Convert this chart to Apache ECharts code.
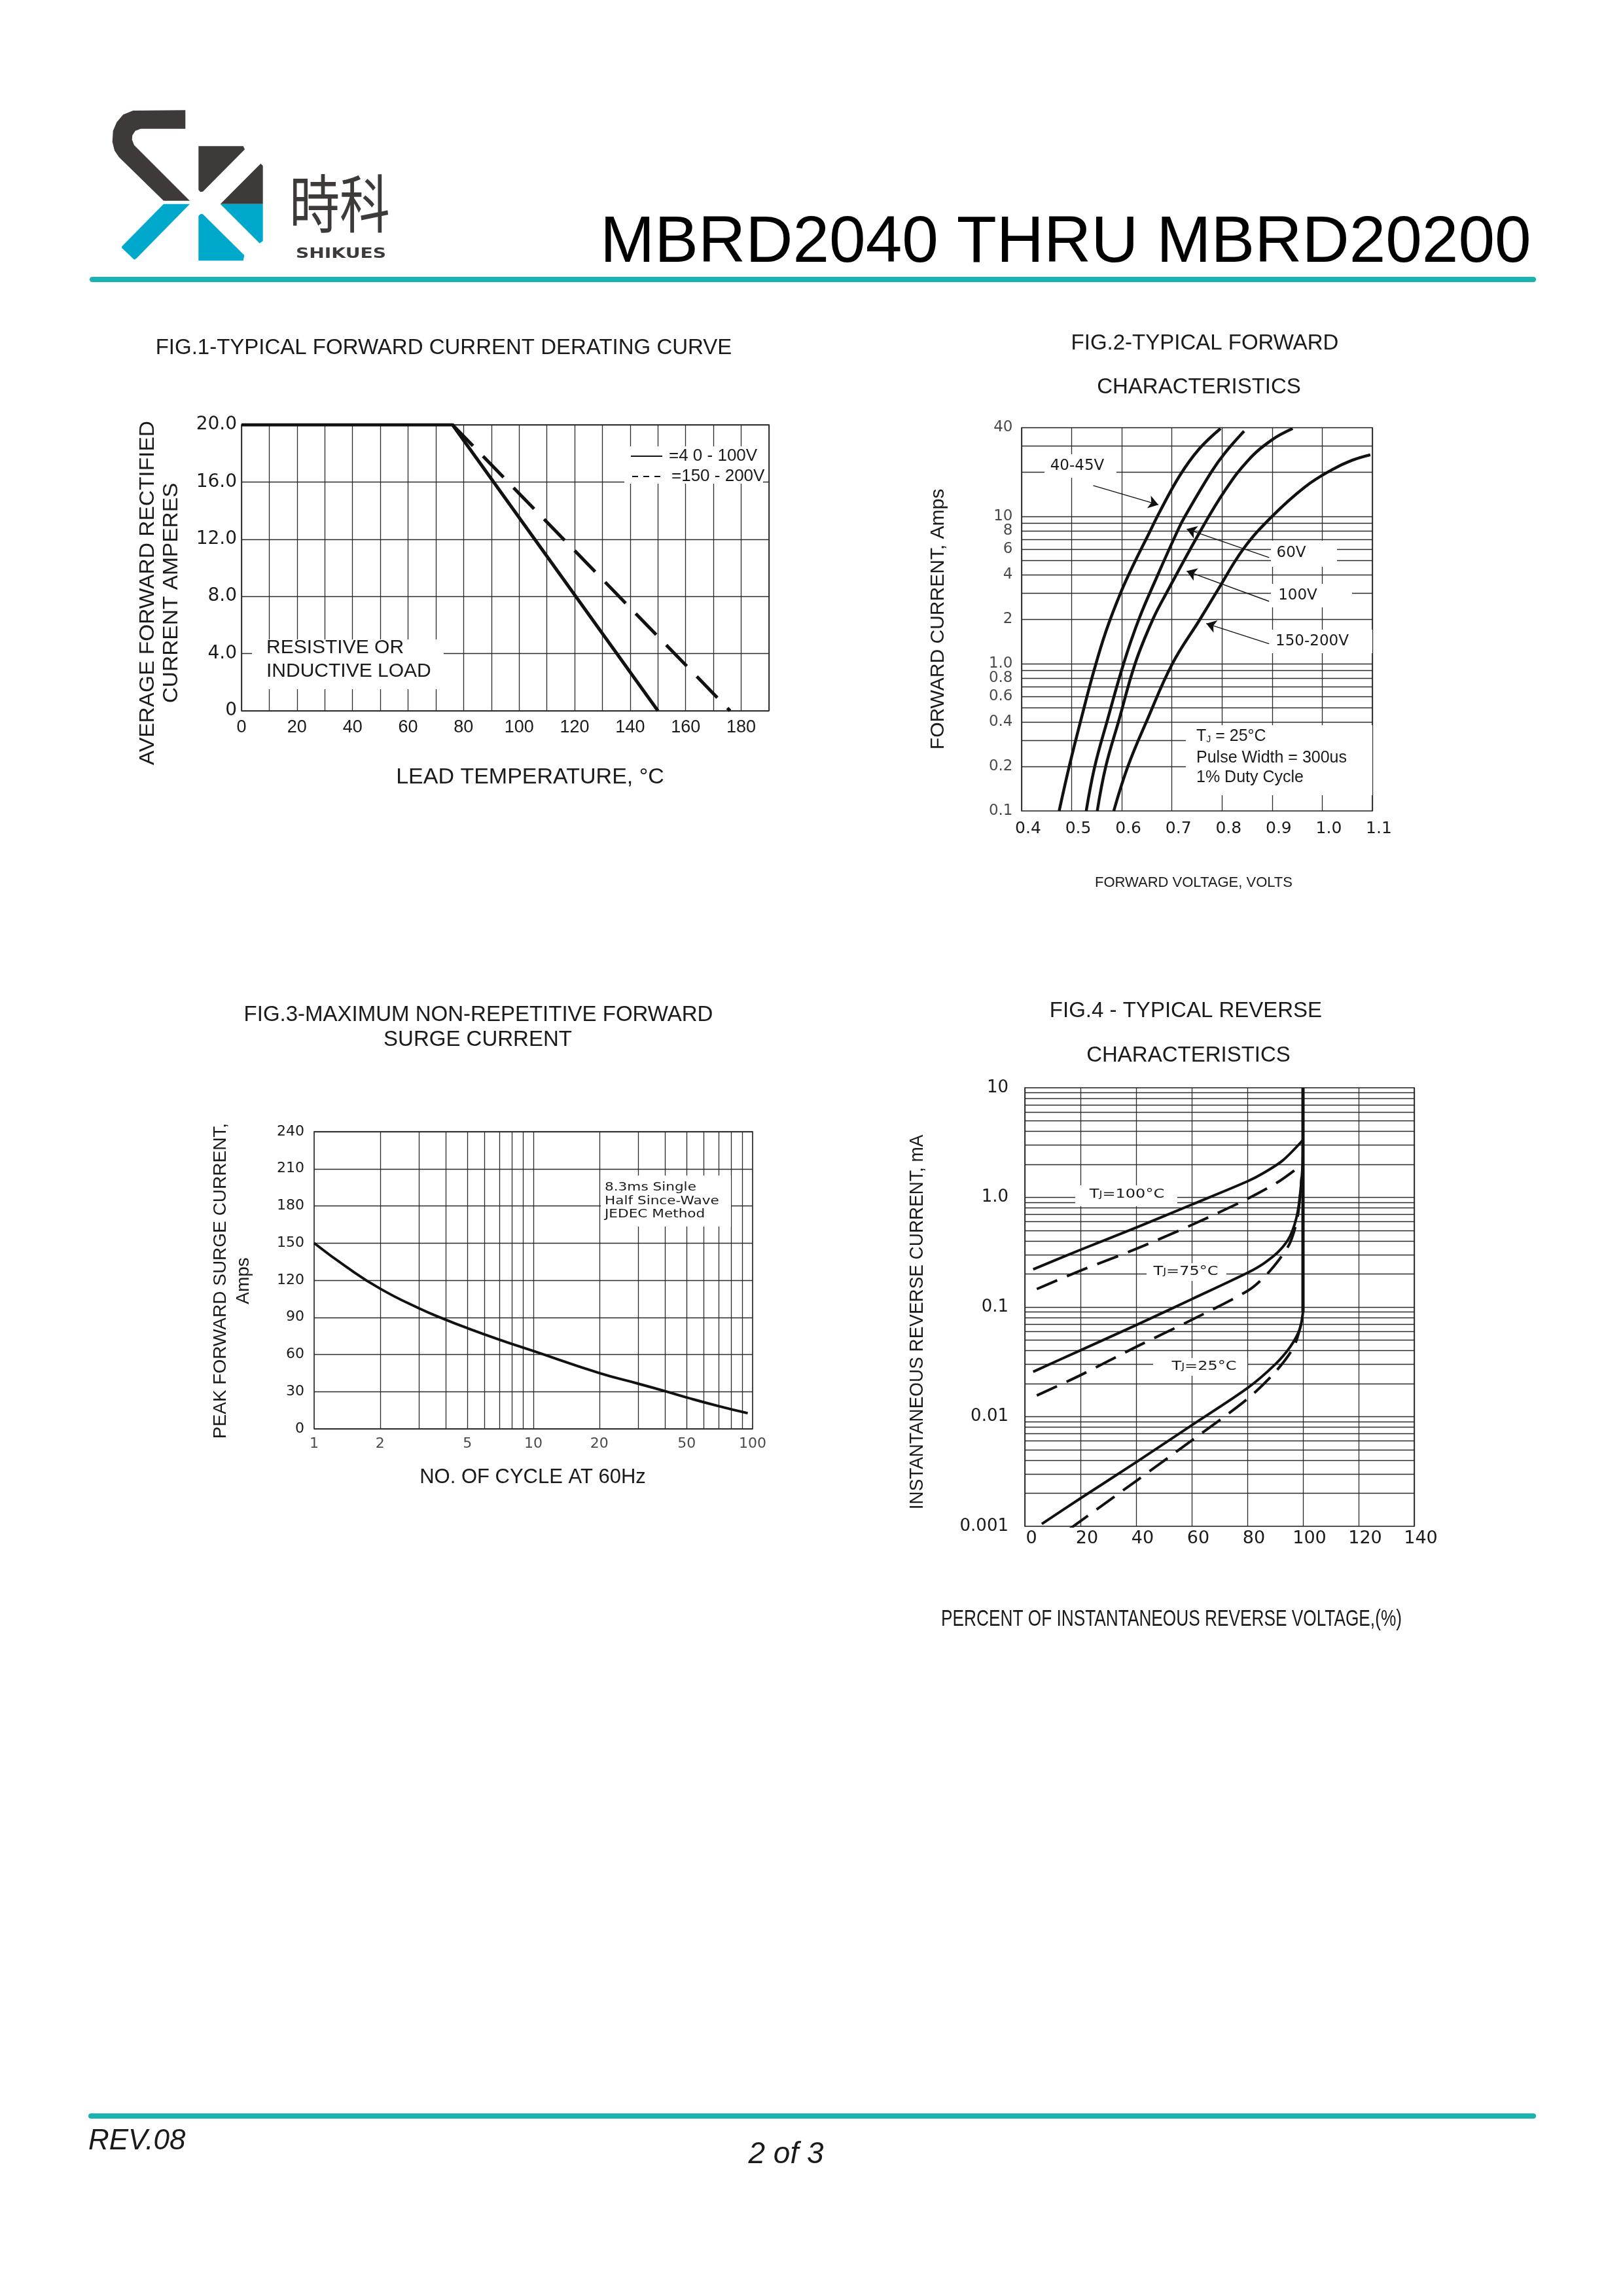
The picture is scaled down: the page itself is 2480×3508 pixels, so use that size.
<!DOCTYPE html>
<html>
<head>
<meta charset="utf-8">
<script src="https://cdn.jsdelivr.net/npm/echarts@6/dist/echarts.min.js"></script>
<style>
html,body{margin:0;padding:0;background:#fff;}
#c{width:2480px;height:3508px;}
</style>
</head>
<body>
<div id="c"></div>
<script>
// ---------------- DATA ----------------
// FIG.1 derating curve
const fig1XLabels = ['0','20','40','60','80','100','120','140','160','180'];
const fig1YLabels = ['0','4.0','8.0','12.0','16.0','20.0'];
const fig1TempSolid = [0, 76, 150];
const fig1AmpsSolid = [20, 20, 0];
const fig1TempDashed = [76, 176];
const fig1AmpsDashed = [20, 0];

// FIG.2 forward characteristics
const fig2XLabels = ['0.4','0.5','0.6','0.7','0.8','0.9','1.0','1.1'];
const fig2YTicks  = [0.1, 0.2, 0.4, 0.6, 0.8, 1, 2, 4, 6, 8, 10, 40];
const fig2YLabels = ['0.1','0.2','0.4','0.6','0.8','1.0','2','4','6','8','10','40'];
const fig2GridY   = [0.2,0.3,0.4,0.5,0.6,0.7,0.8,0.9,1,2,3,4,5,6,7,8,9,10,20,30];
const volts4045 = [0.475, 0.495, 0.518, 0.545, 0.569, 0.599, 0.625, 0.651, 0.677, 0.716, 0.754, 0.797];
const amps4045  = [0.1, 0.2, 0.41, 0.91, 1.68, 3.1, 4.83, 7.28, 10.96, 19.0, 28.6, 39.5];
const volts60   = [0.529, 0.546, 0.571, 0.604, 0.634, 0.669, 0.712, 0.726, 0.779, 0.806, 0.844];
const amps60    = [0.1, 0.2, 0.41, 1.01, 2.0, 3.81, 8.07, 10.0, 20.1, 27.0, 37.9];
const volts100  = [0.551, 0.568, 0.594, 0.627, 0.662, 0.691, 0.758, 0.806, 0.852, 0.899, 0.941];
const amps100   = [0.1, 0.2, 0.41, 1.01, 2.0, 3.1, 8.07, 15.0, 24.0, 33.0, 39.5];
const volts150  = [0.584, 0.612, 0.650, 0.701, 0.756, 0.790, 0.843, 0.899, 0.966, 1.019, 1.059, 1.096];
const amps150   = [0.1, 0.2, 0.41, 1.0, 2.0, 3.1, 6.04, 9.94, 15.9, 20.7, 24.0, 26.2];
const fig2ArrowStart = [[0.543, 16.2], [0.894, 5.25], [0.894, 2.65], [0.894, 1.365]];
const fig2ArrowEnd   = [[0.673, 12.0], [0.7295, 8.2], [0.7295, 4.25], [0.7686, 1.873]];

// FIG.3 surge current
const fig3XTicks  = [1, 2, 5, 10, 20, 50, 100];
const fig3XLabels = ['1','2','5','10','20','50','100'];
const fig3YLabels = ['0','30','60','90','120','150','180','210','240'];
const fig3GridX   = [2,3,4,5,6,7,8,9,10,20,30,40,50,60,70,80,90];
const fig3Cycles  = [1, 1.41, 2, 3, 4, 5, 7, 10, 20, 30, 40, 50, 70, 95];
const fig3Amps    = [150, 130.5, 113.2, 97.4, 88, 81.3, 72, 62.8, 45, 36.5, 30.3, 25.3, 18.3, 12.6];

// FIG.4 reverse characteristics
const fig4XLabels = ['0','20','40','60','80','100','120','140'];
const fig4YLabels = ['0.001','0.01','0.1','1.0','10'];
const fig4GridY = [0.002,0.003,0.004,0.005,0.006,0.007,0.008,0.009,
                   0.01,0.02,0.03,0.04,0.05,0.06,0.07,0.08,0.09,
                   0.1,0.2,0.3,0.4,0.5,0.6,0.7,0.8,0.9,
                   1,2,3,4,5,6,7,8,9];
const pct100Solid = [3, 20, 40, 60, 80, 86, 92.7, 100];
const ma100Solid  = [0.221, 0.333, 0.53, 0.86, 1.40, 1.68, 2.17, 3.34];
const pct100Dash  = [4.3, 20, 40, 60, 80, 91.4, 100];
const ma100Dash   = [0.146, 0.215, 0.339, 0.561, 0.97, 1.40, 2.02];
const pct75Solid  = [3, 20, 40, 60, 80, 86, 91.4, 95.4, 98.1, 99.7, 100];
const ma75Solid   = [0.0257, 0.0403, 0.0684, 0.118, 0.205, 0.251, 0.324, 0.446, 0.738, 1.68, 2.9];
const pct75Dash   = [4.3, 20, 40, 60, 80, 86, 91.4, 95.4, 98.1, 99.5];
const ma75Dash    = [0.0156, 0.0239, 0.0433, 0.0764, 0.14, 0.187, 0.27, 0.389, 0.673, 1.53];
const pct25Solid  = [6.1, 20, 40, 60, 80, 90, 95.4, 98.8, 100];
const ma25Solid   = [0.00105, 0.0018, 0.00384, 0.00835, 0.0182, 0.030, 0.0433, 0.0624, 0.090];
const pct25Dash   = [16.2, 26.6, 40, 60, 80, 90, 96.7, 99.2];
const ma25Dash    = [0.00095, 0.00147, 0.00259, 0.00607, 0.0145, 0.0255, 0.0433, 0.0684];
const pctVertical = [100, 100];
const maVertical  = [0.09, 10];

// ---------------- STYLE ----------------
const INK = '#1a1a1a';
const GRIDC = '#2a2a2a';
const SANS = '"Liberation Sans", Arial, sans-serif';
const DJ = '"DejaVu Sans", sans-serif';
const CJK = '"Noto Sans CJK SC", "Noto Sans CJK TC", sans-serif';
const TEAL = '#1bb3b1';
const DARK = '#3e3a39';
const CYAN = '#00a9cc';

const chart = echarts.init(document.getElementById('c'), null, {renderer: 'canvas', width: 2480, height: 3508});

const zip = (xs, ys) => xs.map((x, i) => [x, ys[i]]);
const gridLineStyle = {color: GRIDC, width: 1.3, type: 'solid', opacity: 1};
function gridMarks(vals, key) {
  return {silent: true, symbol: ['none', 'none'], label: {show: false}, precision: 8,
          lineStyle: gridLineStyle, emphasis: {disabled: true}, animation: false,
          data: vals.map(v => ({[key]: v}))};
}
function curve(ai, xs, ys, width, dash, smooth) {
  return {type: 'line', xAxisIndex: ai, yAxisIndex: ai, data: zip(xs, ys),
          symbol: 'none', showSymbol: false, smooth: smooth, silent: true, z: 5,
          lineStyle: {color: '#111', width: width, type: dash || 'solid', cap: 'butt', join: 'round'}};
}
const hide = {show: false};
const splitOn = {show: true, lineStyle: gridLineStyle};

// ---------------- GRAPHICS ----------------
function txt(x, y, text, size, o) {
  o = o || {};
  return {type: 'text', x: x, y: y, z: 30, rotation: o.rot || 0, scaleX: o.sx || 1, scaleY: o.sy || 1,
    style: {x: 0, y: 0, text: text, fontSize: size, fontFamily: o.family || SANS,
      fontWeight: o.weight || 'normal', fontStyle: o.style || 'normal',
      fill: o.fill || INK, align: o.align || 'center', verticalAlign: 'middle', rich: o.rich}};
}
function box(x, y, w, h) {
  return {type: 'rect', z: 25, shape: {x: x, y: y, width: w, height: h}, style: {fill: '#fff'}};
}
function poly(points, fill) {
  return {type: 'polygon', z: 30, shape: {points: points}, style: {fill: fill}};
}
function line(x1, y1, x2, y2, w, dash) {
  return {type: 'line', z: 30, shape: {x1: x1, y1: y1, x2: x2, y2: y2},
          style: {stroke: '#111', lineWidth: w, lineDash: dash || null}};
}
const tjRich = (size) => ({
  a: {fontSize: size, fontFamily: DJ, fill: INK},
  j: {fontSize: Math.round(size * 0.72), fontFamily: DJ, fill: INK}
});

const graphics = [
  // logo
  poly([[283.3,168.3],[283.3,196.7],[215,196.7],[206.7,200],[202.3,206.7],[201.7,213.3],[205,221.7],
        [290,306.7],[250,306.7],[181.7,240],[175,230],[171.7,216.7],[172.7,200],[178.3,186.7],[188.3,175],[203.3,169]], DARK),
  poly([[250,311.7],[290,311.7],[208.3,395],[205,396.7],[186.7,379.3],[186,376.7]], CYAN),
  poly([[303.3,223.3],[371.7,223.3],[374,228.3],[310,292.7],[306,293.3],[303.3,290]], DARK),
  poly([[398.3,250],[401.7,253.3],[401.7,311.7],[336.7,311.7]], DARK),
  poly([[336.7,311.7],[401.7,311.7],[401.7,368.3],[396.7,371.7]], CYAN),
  poly([[303.3,330],[306.7,326.7],[310,327.3],[373.3,390],[371.7,398.3],[303.3,398.3]], CYAN),
  txt(519, 311, '時科', 96, {family: CJK, fill: DARK, sx: 0.8}),
  txt(521, 388, 'SHIKUES', 22, {family: DJ, weight: 'bold', fill: DARK, sx: 1.28}),
  // header title + rule
  txt(917, 372, 'MBRD2040 THRU MBRD20200', 100, {align: 'left', fill: '#000'}),
  {type: 'rect', z: 30, shape: {x: 137, y: 423, width: 2210, height: 8, r: 4}, style: {fill: TEAL}},
  // footer
  {type: 'rect', z: 30, shape: {x: 135, y: 3229, width: 2212, height: 8, r: 4}, style: {fill: TEAL}},
  txt(135, 3272, 'REV.08', 44, {align: 'left', style: 'italic'}),
  txt(1201, 3292, '2 of 3', 46, {style: 'italic'}),

  // FIG.1 texts
  txt(678, 532, 'FIG.1-TYPICAL FORWARD CURRENT DERATING CURVE', 33),
  txt(226, 906, 'AVERAGE FORWARD RECTIFIED', 31, {rot: Math.PI / 2, sx: 1.08}),
  txt(262, 906, 'CURRENT AMPERES', 31, {rot: Math.PI / 2, sx: 1.08}),
  txt(810, 1188, 'LEAD TEMPERATURE, °C', 34),
  box(385, 977, 293, 76),
  txt(407, 990, 'RESISTIVE OR', 30, {align: 'left'}),
  txt(407, 1026, 'INDUCTIVE LOAD', 30, {align: 'left'}),
  box(954, 682, 212, 57),
  line(964, 697, 1012, 697, 2),
  txt(1022, 697, '=4 0 - 100V', 26, {align: 'left'}),
  line(966, 728, 1016, 728, 2, [9, 8]),
  txt(1026, 728, '=150 - 200V', 26, {align: 'left'}),

  // FIG.2 texts
  txt(1841, 525, 'FIG.2-TYPICAL FORWARD', 33),
  txt(1832, 592, 'CHARACTERISTICS', 33),
  txt(1434, 946, 'FORWARD CURRENT, Amps', 30, {rot: Math.PI / 2}),
  txt(1824, 1349, 'FORWARD VOLTAGE, VOLTS', 22),
  box(1596, 694, 110, 36),
  txt(1646, 712, '40-45V', 23, {family: DJ}),
  box(1942, 826, 101, 40),
  txt(1973, 845, '60V', 23, {family: DJ}),
  box(1942, 892, 124, 36),
  txt(1983, 910, '100V', 23, {family: DJ}),
  box(1942, 962, 155, 36),
  txt(2005, 980, '150-200V', 23, {family: DJ}),
  box(1812, 1108, 285, 107),
  txt(1828, 1125, '{a|T}{j|J}{a| = 25°C}', 25, {align: 'left', rich: {
      a: {fontSize: 25, fontFamily: SANS, fill: INK},
      j: {fontSize: 14, fontFamily: SANS, fill: INK, verticalAlign: 'bottom', padding: [10, 0, 0, 0]}}}),
  txt(1828, 1158, 'Pulse Width = 300us', 25, {align: 'left'}),
  txt(1828, 1188, '1% Duty Cycle', 25, {align: 'left'}),

  // FIG.3 texts
  txt(731, 1551, 'FIG.3-MAXIMUM NON-REPETITIVE FORWARD', 33),
  txt(730, 1589, 'SURGE CURRENT', 33),
  txt(337, 1957, 'PEAK FORWARD SURGE CURRENT,', 28, {rot: Math.PI / 2}),
  txt(372, 1957, 'Amps', 28, {rot: Math.PI / 2}),
  txt(814, 2257, 'NO. OF CYCLE AT 60Hz', 31),
  box(918, 1796, 199, 78),
  txt(924, 1814, '8.3ms Single', 18, {align: 'left', family: DJ, sx: 1.2}),
  txt(924, 1835, 'Half Since-Wave', 18, {align: 'left', family: DJ, sx: 1.2}),
  txt(924, 1855, 'JEDEC Method', 18, {align: 'left', family: DJ, sx: 1.2}),

  // FIG.4 texts
  txt(1812, 1545, 'FIG.4 - TYPICAL REVERSE', 33),
  txt(1816, 1613, 'CHARACTERISTICS', 33),
  txt(1402, 2020, 'INSTANTANEOUS REVERSE CURRENT, mA', 30, {rot: Math.PI / 2, sx: 0.93}),
  txt(1790, 2474, 'PERCENT OF INSTANTANEOUS REVERSE VOLTAGE,(%)', 35, {sx: 0.75}),
  box(1643, 1811, 156, 32),
  txt(1722, 1825, '{a|T}{j|J}{a|=100°C}', 20, {rich: tjRich(20), sx: 1.2}),
  box(1752, 1930, 122, 27),
  txt(1812, 1943, '{a|T}{j|J}{a|=75°C}', 20, {rich: tjRich(20), sx: 1.2}),
  box(1762, 2075, 144, 27),
  txt(1840, 2088, '{a|T}{j|J}{a|=25°C}', 20, {rich: tjRich(20), sx: 1.2})
];

// ---------------- OPTION ----------------
const gridBase = {show: true, borderColor: '#1a1a1a', borderWidth: 1.6, backgroundColor: 'rgba(0,0,0,0)',
                  containLabel: false, outerBoundsMode: 'none'};
const option = {
  animation: false,
  backgroundColor: '#ffffff',
  grid: [
    Object.assign({left: 369, top: 649, width: 806, height: 437}, gridBase),
    Object.assign({left: 1561, top: 653.5, width: 536, height: 585.5}, gridBase),
    Object.assign({left: 480, top: 1729, width: 670, height: 454}, gridBase),
    Object.assign({left: 1566, top: 1662, width: 595, height: 670}, gridBase)
  ],
  xAxis: [
    {gridIndex: 0, type: 'value', min: 0, max: 190, interval: 10, axisLine: hide, axisTick: hide, splitLine: splitOn,
     axisLabel: {color: INK, fontFamily: SANS, fontSize: 27, margin: 12,
       formatter: v => (Math.round(v) % 20 === 0 ? (fig1XLabels[Math.round(v / 20)] || '') : '')}},
    {gridIndex: 1, type: 'value', min: 0.4, max: 1.1, interval: 0.1, axisLine: hide, axisTick: hide, splitLine: splitOn,
     axisLabel: {color: INK, fontFamily: DJ, fontSize: 25, margin: 15, padding: [0, 0, 0, 20],
       formatter: v => fig2XLabels[Math.round((v - 0.4) * 10)] || ''}},
    {gridIndex: 2, type: 'log', logBase: 10, min: 1, max: 100, axisLine: hide, axisTick: hide,
     splitLine: hide, axisLabel: hide},
    {gridIndex: 3, type: 'value', min: 0, max: 140, interval: 20, axisLine: hide, axisTick: hide, splitLine: splitOn,
     axisLabel: {color: INK, fontFamily: DJ, fontSize: 27, margin: 5, padding: [0, 0, 0, 20],
       formatter: v => fig4XLabels[Math.round(v / 20)] || ''}}
  ],
  yAxis: [
    {gridIndex: 0, type: 'value', min: 0, max: 20, interval: 4, axisLine: hide, axisTick: hide, splitLine: splitOn,
     axisLabel: {color: INK, fontFamily: DJ, fontSize: 28, margin: 7,
       formatter: v => fig1YLabels[Math.round(v / 4)] || ''}},
    {gridIndex: 1, type: 'log', logBase: 10, min: 0.1, max: 40, axisLine: hide, axisTick: hide,
     splitLine: hide, axisLabel: hide},
    {gridIndex: 2, type: 'value', min: 0, max: 240, interval: 30, axisLine: hide, axisTick: hide, splitLine: splitOn,
     axisLabel: {color: INK, fontFamily: DJ, fontSize: 22, margin: 15,
       formatter: v => fig3YLabels[Math.round(v / 30)] || ''}},
    {gridIndex: 3, type: 'log', logBase: 10, min: 0.001, max: 10, axisLine: hide, axisTick: hide, splitLine: hide,
     axisLabel: {color: INK, fontFamily: DJ, fontSize: 26, margin: 25,
       formatter: v => fig4YLabels[Math.round(Math.log10(v)) + 3] || ''}}
  ],
  series: [
    // FIG.1
    curve(0, fig1TempSolid, fig1AmpsSolid, 5, 'solid', false),
    curve(0, fig1TempDashed, fig1AmpsDashed, 5, [45, 22], false),

    // FIG.2 grid lines + tick labels
    {type: 'scatter', xAxisIndex: 1, yAxisIndex: 1, data: fig2YTicks.map(v => [0.4, v]),
     symbolSize: 1, itemStyle: {color: 'rgba(0,0,0,0)'}, clip: false, silent: true, z: 3,
     label: {show: true, position: 'left', distance: 13, color: INK, fontFamily: DJ, fontSize: 23,
       formatter: p => fig2YLabels[p.dataIndex]},
     markLine: gridMarks(fig2GridY, 'yAxis')},
    curve(1, volts4045, amps4045, 4.5, 'solid', 0.4),
    curve(1, volts60, amps60, 4.5, 'solid', 0.4),
    curve(1, volts100, amps100, 4.5, 'solid', 0.4),
    curve(1, volts150, amps150, 4.5, 'solid', 0.4),
    {type: 'line', xAxisIndex: 1, yAxisIndex: 1, data: [[0.4, 0.1]], symbol: 'none', showSymbol: false,
     lineStyle: {opacity: 0}, silent: true, z: 6,
     markLine: {silent: true, symbol: ['none', 'arrow'], symbolSize: 15, label: {show: false}, precision: 8,
       lineStyle: {color: '#111', width: 1.4, type: 'solid'}, emphasis: {disabled: true},
       data: fig2ArrowStart.map((s, i) => [{coord: s}, {coord: fig2ArrowEnd[i]}])}},

    // FIG.3 grid lines + tick labels
    {type: 'scatter', xAxisIndex: 2, yAxisIndex: 2, data: fig3XTicks.map(v => [v, 0]),
     symbolSize: 1, itemStyle: {color: 'rgba(0,0,0,0)'}, clip: false, silent: true, z: 3,
     label: {show: true, position: 'bottom', distance: 12, color: INK, fontFamily: DJ, fontSize: 22,
       formatter: p => fig3XLabels[p.dataIndex]},
     markLine: gridMarks(fig3GridX, 'xAxis')},
    curve(2, fig3Cycles, fig3Amps, 4, 'solid', 0.5),

    // FIG.4 grid lines
    {type: 'line', xAxisIndex: 3, yAxisIndex: 3, data: [[0, 0.001]], symbol: 'none', showSymbol: false,
     lineStyle: {opacity: 0}, silent: true, z: 3, markLine: gridMarks(fig4GridY, 'yAxis')},
    curve(3, pct100Solid, ma100Solid, 4, 'solid', 0.3),
    curve(3, pct100Dash, ma100Dash, 4, [34, 16], 0.3),
    curve(3, pct75Solid, ma75Solid, 4, 'solid', 0.3),
    curve(3, pct75Dash, ma75Dash, 4, [34, 16], 0.3),
    curve(3, pct25Solid, ma25Solid, 4, 'solid', 0.3),
    curve(3, pct25Dash, ma25Dash, 4, [34, 16], 0.3),
    curve(3, pctVertical, maVertical, 5, 'solid', false)
  ],
  graphic: {elements: graphics}
};
chart.setOption(option);
</script>
</body>
</html>
